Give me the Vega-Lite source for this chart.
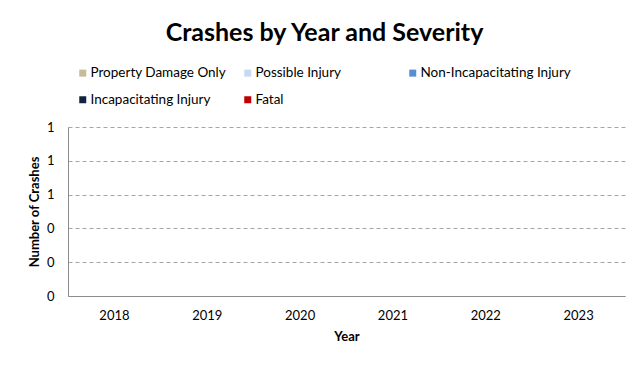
{
  "$schema": "https://vega.github.io/schema/vega-lite/v6.json",
  "autosize": {"type": "none"},
  "width": 557,
  "height": 169,
  "padding": {"left": 68, "top": 127, "right": 9, "bottom": 69},
  "background": "white",
  "title": {
    "text": "Crashes by Year and Severity",
    "font": "Lato",
    "fontSize": 25,
    "fontWeight": "bold",
    "color": "#000000",
    "anchor": "middle",
    "dx": -22,
    "baseline": "alphabetic",
    "offset": 0
  },
  "data": {
    "values": [
      {"Year": "2018", "Severity": "Property Damage Only", "Crashes": 0},
      {"Year": "2018", "Severity": "Possible Injury", "Crashes": 0},
      {"Year": "2018", "Severity": "Non-Incapacitating Injury", "Crashes": 0},
      {"Year": "2018", "Severity": "Incapacitating Injury", "Crashes": 0},
      {"Year": "2018", "Severity": "Fatal", "Crashes": 0},
      {"Year": "2019", "Severity": "Property Damage Only", "Crashes": 0},
      {"Year": "2019", "Severity": "Possible Injury", "Crashes": 0},
      {"Year": "2019", "Severity": "Non-Incapacitating Injury", "Crashes": 0},
      {"Year": "2019", "Severity": "Incapacitating Injury", "Crashes": 0},
      {"Year": "2019", "Severity": "Fatal", "Crashes": 0},
      {"Year": "2020", "Severity": "Property Damage Only", "Crashes": 0},
      {"Year": "2020", "Severity": "Possible Injury", "Crashes": 0},
      {"Year": "2020", "Severity": "Non-Incapacitating Injury", "Crashes": 0},
      {"Year": "2020", "Severity": "Incapacitating Injury", "Crashes": 0},
      {"Year": "2020", "Severity": "Fatal", "Crashes": 0},
      {"Year": "2021", "Severity": "Property Damage Only", "Crashes": 0},
      {"Year": "2021", "Severity": "Possible Injury", "Crashes": 0},
      {"Year": "2021", "Severity": "Non-Incapacitating Injury", "Crashes": 0},
      {"Year": "2021", "Severity": "Incapacitating Injury", "Crashes": 0},
      {"Year": "2021", "Severity": "Fatal", "Crashes": 0},
      {"Year": "2022", "Severity": "Property Damage Only", "Crashes": 0},
      {"Year": "2022", "Severity": "Possible Injury", "Crashes": 0},
      {"Year": "2022", "Severity": "Non-Incapacitating Injury", "Crashes": 0},
      {"Year": "2022", "Severity": "Incapacitating Injury", "Crashes": 0},
      {"Year": "2022", "Severity": "Fatal", "Crashes": 0},
      {"Year": "2023", "Severity": "Property Damage Only", "Crashes": 0},
      {"Year": "2023", "Severity": "Possible Injury", "Crashes": 0},
      {"Year": "2023", "Severity": "Non-Incapacitating Injury", "Crashes": 0},
      {"Year": "2023", "Severity": "Incapacitating Injury", "Crashes": 0},
      {"Year": "2023", "Severity": "Fatal", "Crashes": 0}
    ]
  },
  "mark": {"type": "bar", "width": {"band": 0.55}},
  "encoding": {
    "x": {
      "field": "Year",
      "type": "ordinal",
      "title": "Year",
      "scale": {"paddingInner": 0, "paddingOuter": 0},
      "axis": {
        "labelAngle": 0,
        "labelFont": "Lato",
        "labelFontSize": 13,
        "labelColor": "#000000",
        "labelPadding": 13,
        "ticks": false,
        "domainColor": "#8c8c8c",
        "domainWidth": 1,
        "titleFont": "Lato",
        "titleFontSize": 13,
        "titleFontWeight": "bold",
        "titleColor": "#000000",
        "titlePadding": 8,
        "grid": false
      }
    },
    "y": {
      "field": "Crashes",
      "type": "quantitative",
      "aggregate": "sum",
      "stack": "zero",
      "title": "Number of Crashes",
      "scale": {"domain": [0, 1], "nice": false},
      "axis": {
        "values": [0, 0.2, 0.4, 0.6, 0.8, 1],
        "format": ".0f",
        "labelFont": "Lato",
        "labelFontSize": 13,
        "labelColor": "#000000",
        "labelPadding": 14,
        "ticks": false,
        "domainColor": "#8c8c8c",
        "domainWidth": 1,
        "grid": true,
        "gridColor": "#a6a6a6",
        "gridDash": [4, 3],
        "gridWidth": 1,
        "titleFont": "Lato",
        "titleFontSize": 13,
        "titleFontWeight": "bold",
        "titleColor": "#000000",
        "titlePadding": 5
      }
    },
    "color": {
      "field": "Severity",
      "type": "nominal",
      "scale": {
        "domain": ["Property Damage Only", "Possible Injury", "Non-Incapacitating Injury", "Incapacitating Injury", "Fatal"],
        "range": ["#C4BD97", "#C6D9F1", "#558ED5", "#10243E", "#C00000"]
      },
      "legend": {
        "title": null,
        "orient": "none",
        "legendX": 8,
        "legendY": -61,
        "direction": "horizontal",
        "columns": 3,
        "gridAlign": "all",
        "columnPadding": 0,
        "rowPadding": 12,
        "padding": 0,
        "symbolType": "square",
        "symbolSize": 49,
        "symbolStrokeWidth": 0,
        "labelFont": "Lato",
        "labelFontSize": 13.5,
        "labelColor": "#000000",
        "labelOffset": 1,
        "labelLimit": 300
      }
    },
    "order": {"field": "Severity"}
  },
  "config": {
    "view": {"stroke": null}
  }
}
